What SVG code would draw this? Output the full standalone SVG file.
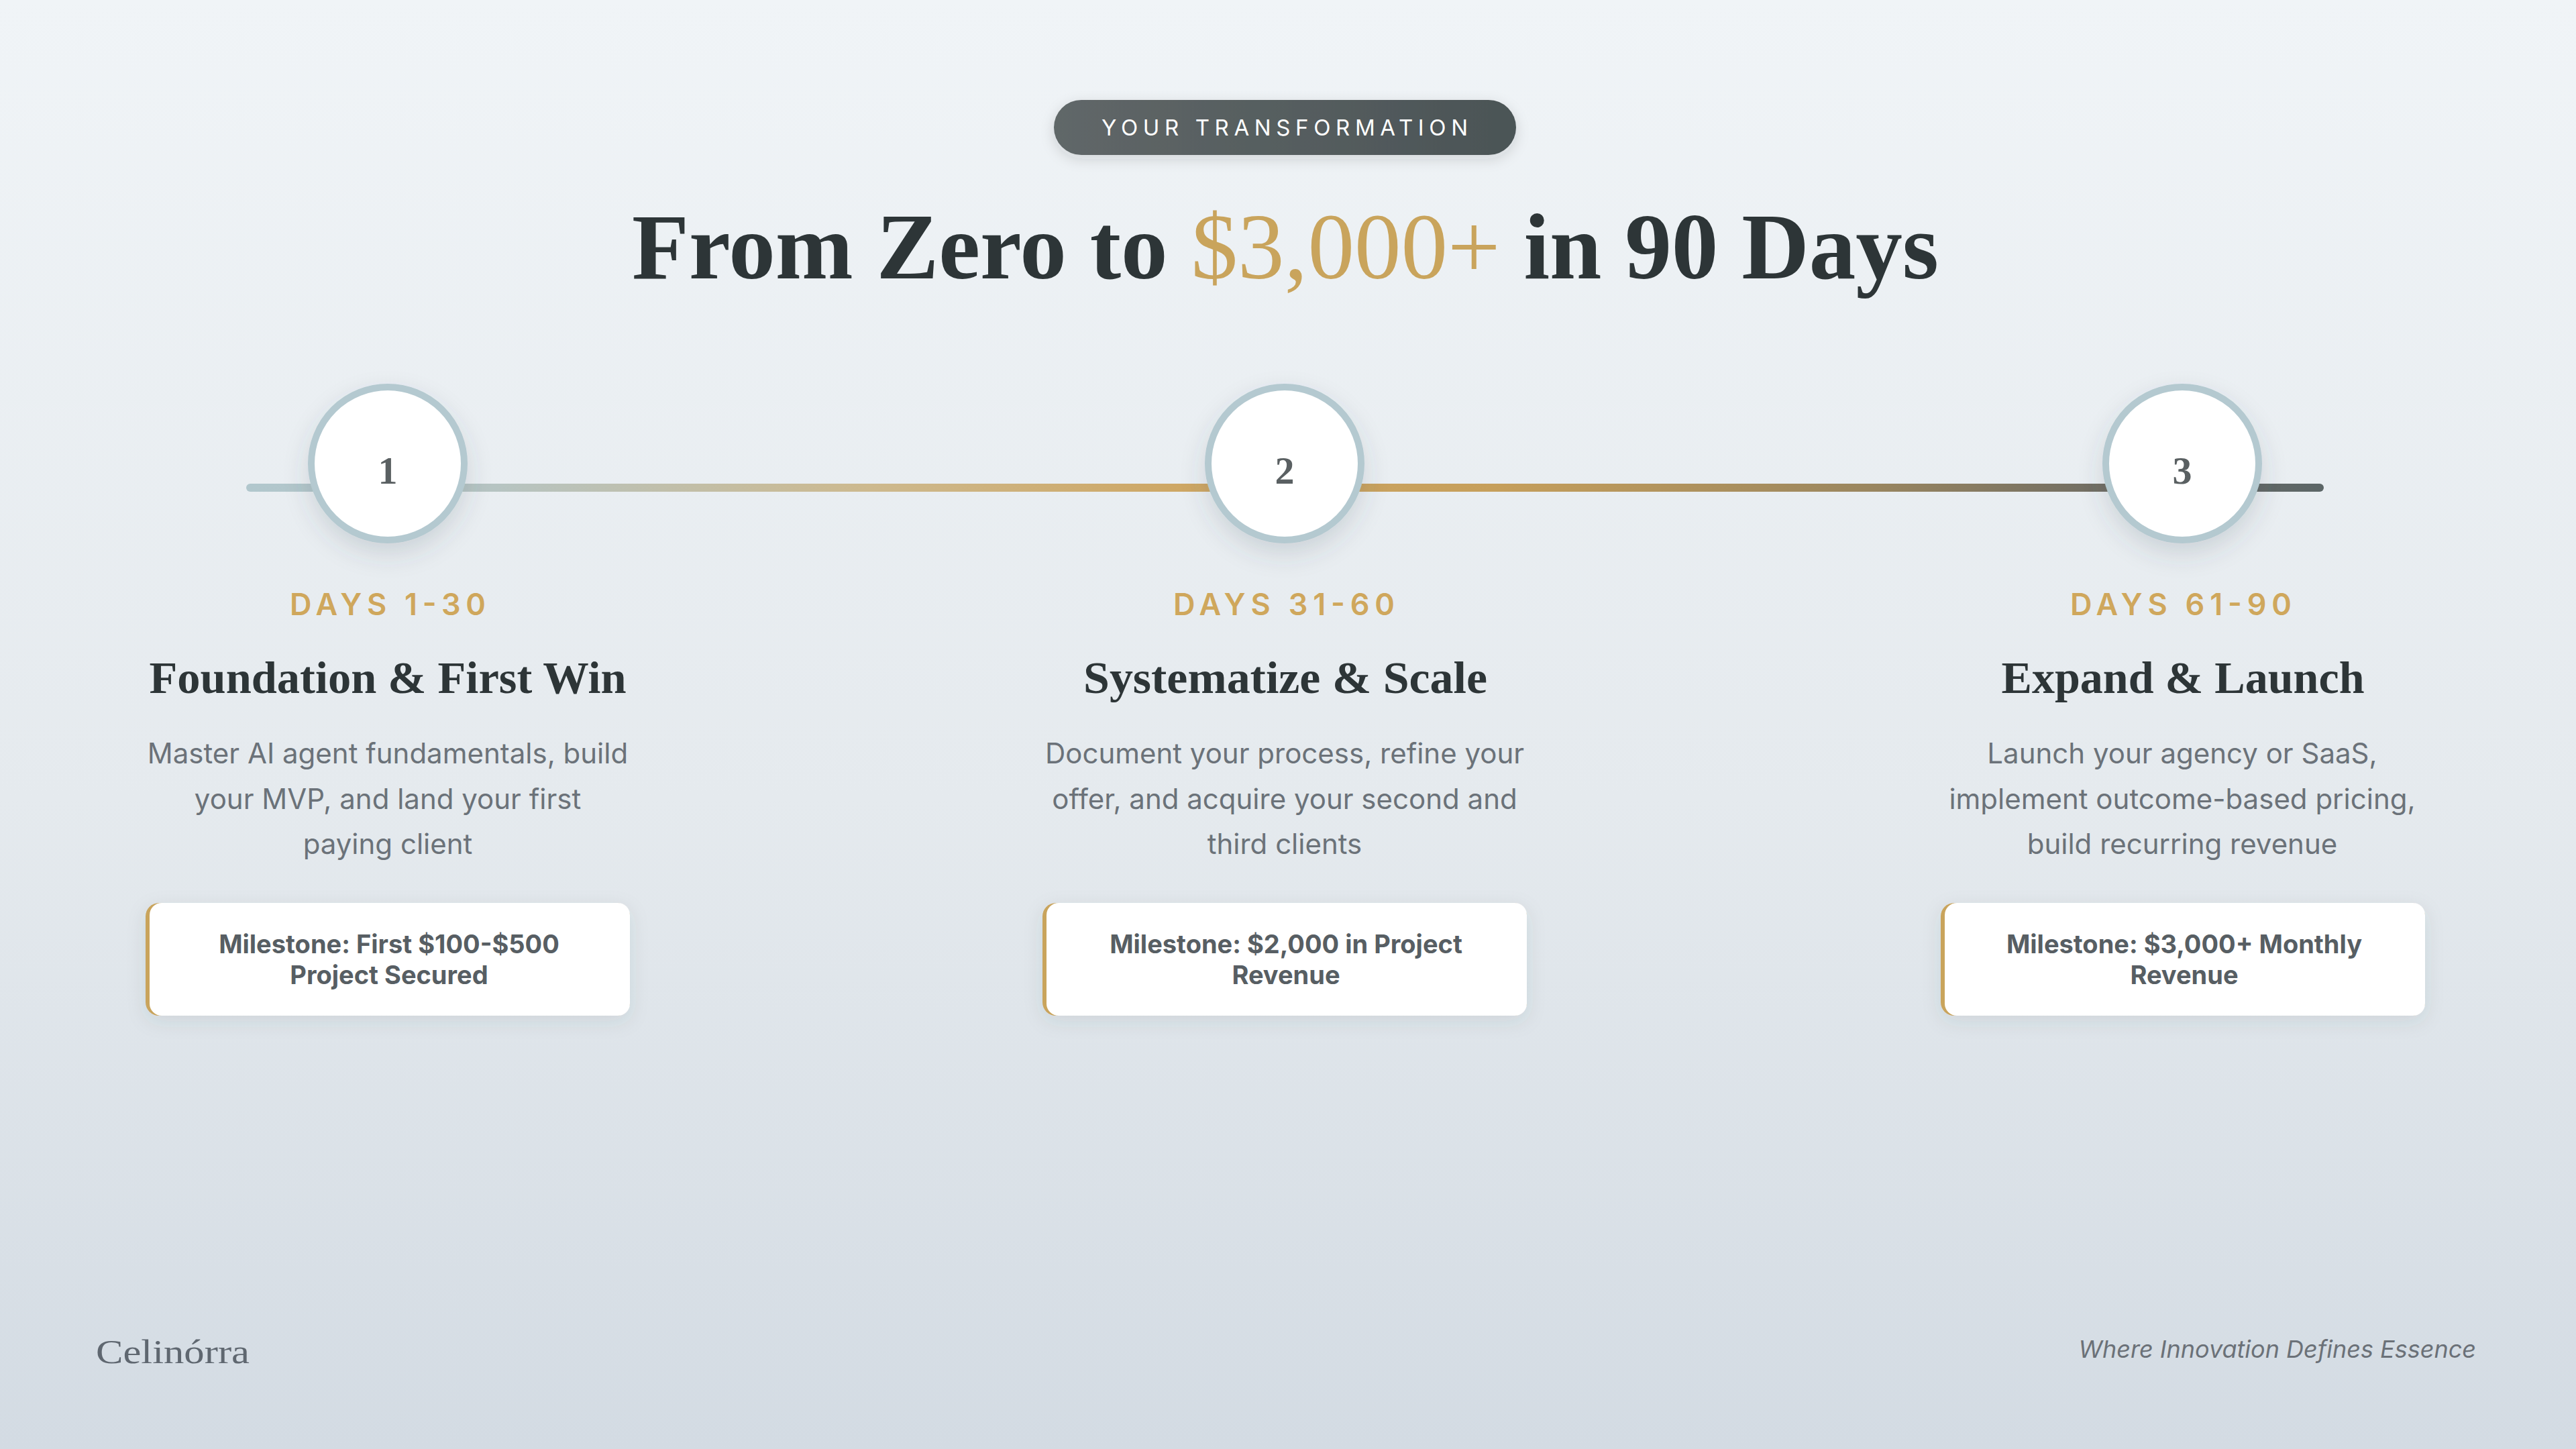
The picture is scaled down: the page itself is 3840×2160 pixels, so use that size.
<svg xmlns="http://www.w3.org/2000/svg" width="3840" height="2160" viewBox="0 0 3840 2160">
<defs>
  <linearGradient id="bg" x1="0" y1="0" x2="0" y2="1">
    <stop offset="0" stop-color="#f0f4f7"/>
    <stop offset="0.55" stop-color="#e5eaee"/>
    <stop offset="1" stop-color="#d3dbe3"/>
  </linearGradient>
  <linearGradient id="pillGrad" x1="0" y1="0" x2="1" y2="0">
    <stop offset="0" stop-color="#606768"/>
    <stop offset="1" stop-color="#4b5456"/>
  </linearGradient>
  <linearGradient id="lineGrad" gradientUnits="userSpaceOnUse" x1="367" y1="0" x2="3464" y2="0">
    <stop offset="0" stop-color="#b1c7cd"/>
    <stop offset="0.12" stop-color="#b6c4c2"/>
    <stop offset="0.3" stop-color="#cdb98e"/>
    <stop offset="0.45" stop-color="#cea764"/>
    <stop offset="0.6" stop-color="#c69f5b"/>
    <stop offset="0.78" stop-color="#9a865f"/>
    <stop offset="0.9" stop-color="#6e6c64"/>
    <stop offset="1" stop-color="#5c6667"/>
  </linearGradient>
  <filter id="circleShadow" x="-50%" y="-50%" width="200%" height="200%">
    <feDropShadow dx="0" dy="16" stdDeviation="18" flood-color="#3a4a55" flood-opacity="0.16"/>
  </filter>
  <filter id="boxShadow" x="-20%" y="-40%" width="140%" height="180%">
    <feDropShadow dx="0" dy="8" stdDeviation="14" flood-color="#3a4a55" flood-opacity="0.10"/>
  </filter>
  <filter id="pillShadow" x="-20%" y="-50%" width="140%" height="200%">
    <feDropShadow dx="0" dy="6" stdDeviation="10" flood-color="#2d3436" flood-opacity="0.15"/>
  </filter>
</defs>
<style>
  .pilltxt { font-family: Inter, "Liberation Sans", sans-serif; font-size: 33px; fill: #ffffff; text-anchor: middle; }
  .title { font-family: "Liberation Serif", "DejaVu Serif", serif; font-weight: bold; font-size: 140px; fill: #2d3537; text-anchor: middle; }
  .gold { fill: #c9a45c; font-weight: normal; }
  .num { font-family: "Liberation Serif", serif; font-weight: bold; font-size: 58px; fill: #5a6062; text-anchor: middle; }
  .days { font-family: Inter, "Liberation Sans", sans-serif; font-weight: 600; font-size: 45px; fill: #cfa75c; text-anchor: middle; }
  .head { font-family: "Liberation Serif", serif; font-weight: bold; font-size: 68px; fill: #2d3537; text-anchor: middle; }
  .desc { font-family: Inter, "Liberation Sans", sans-serif; font-size: 42px; fill: #6b7279; text-anchor: middle; }
  .mile { font-family: Inter, "Liberation Sans", sans-serif; font-weight: bold; font-size: 38px; fill: #575e63; text-anchor: middle; }
  .brand { font-family: "Liberation Serif", serif; font-size: 50px; fill: #5f6770; }
  .tag { font-family: Inter, "Liberation Sans", sans-serif; font-style: italic; font-size: 36px; fill: #6b7178; text-anchor: end; }
  .ring { fill: #ffffff; stroke: #b4c9d0; stroke-width: 10; }
  .boxGold { fill: #c9a45c; }
  .boxWhite { fill: #ffffff; }
</style>

<rect x="0" y="0" width="3840" height="2160" fill="url(#bg)"/>

<g id="header">
  <rect x="1571" y="149" width="689" height="82" rx="41" fill="url(#pillGrad)" filter="url(#pillShadow)"/>
  <text class="pilltxt" x="1915" y="202" textLength="546" lengthAdjust="spacing">YOUR TRANSFORMATION</text>
  <text class="title" x="1916" y="415" textLength="1948" lengthAdjust="spacingAndGlyphs">From Zero to <tspan class="gold">$3,000+</tspan> in 90 Days</text>
</g>

<g id="connectors">
  <line x1="373" y1="727" x2="3458" y2="727" stroke="url(#lineGrad)" stroke-width="12" stroke-linecap="round"/>
</g>

<g id="phase1">
  <circle class="ring" cx="578" cy="691" r="114" filter="url(#circleShadow)"/>
  <text class="num" x="578" y="721">1</text>
  <text class="days" x="578" y="917" textLength="292" lengthAdjust="spacing">DAYS 1-30</text>
  <text class="head" x="578" y="1033" textLength="711" lengthAdjust="spacingAndGlyphs">Foundation &amp; First Win</text>
  <text class="desc" x="578" y="1138">Master AI agent fundamentals, build</text>
  <text class="desc" x="578" y="1206">your MVP, and land your first</text>
  <text class="desc" x="578" y="1273">paying client</text>
  <g filter="url(#boxShadow)">
    <rect class="boxGold" x="217" y="1346" width="722" height="168" rx="20"/>
    <rect class="boxWhite" x="223" y="1346" width="716" height="168" rx="18"/>
  </g>
  <text class="mile" x="580" y="1421">Milestone: First $100-$500</text>
  <text class="mile" x="580" y="1467">Project Secured</text>
</g>

<g id="phase2">
  <circle class="ring" cx="1915" cy="691" r="114" filter="url(#circleShadow)"/>
  <text class="num" x="1915" y="721">2</text>
  <text class="days" x="1914" y="917" textLength="330" lengthAdjust="spacing">DAYS 31-60</text>
  <text class="head" x="1916" y="1033" textLength="602" lengthAdjust="spacingAndGlyphs">Systematize &amp; Scale</text>
  <text class="desc" x="1915" y="1138">Document your process, refine your</text>
  <text class="desc" x="1915" y="1206">offer, and acquire your second and</text>
  <text class="desc" x="1915" y="1273">third clients</text>
  <g filter="url(#boxShadow)">
    <rect class="boxGold" x="1554" y="1346" width="722" height="168" rx="20"/>
    <rect class="boxWhite" x="1560" y="1346" width="716" height="168" rx="18"/>
  </g>
  <text class="mile" x="1917" y="1421">Milestone: $2,000 in Project</text>
  <text class="mile" x="1917" y="1467">Revenue</text>
</g>

<g id="phase3">
  <circle class="ring" cx="3253" cy="691" r="114" filter="url(#circleShadow)"/>
  <text class="num" x="3253" y="721">3</text>
  <text class="days" x="3251" y="917" textLength="330" lengthAdjust="spacing">DAYS 61-90</text>
  <text class="head" x="3254" y="1033" textLength="541" lengthAdjust="spacingAndGlyphs">Expand &amp; Launch</text>
  <text class="desc" x="3253" y="1138">Launch your agency or SaaS,</text>
  <text class="desc" x="3253" y="1206">implement outcome-based pricing,</text>
  <text class="desc" x="3253" y="1273">build recurring revenue</text>
  <g filter="url(#boxShadow)">
    <rect class="boxGold" x="2893" y="1346" width="722" height="168" rx="20"/>
    <rect class="boxWhite" x="2899" y="1346" width="716" height="168" rx="18"/>
  </g>
  <text class="mile" x="3256" y="1421">Milestone: $3,000+ Monthly</text>
  <text class="mile" x="3256" y="1467">Revenue</text>
</g>

<g id="footer">
  <text class="brand" x="143" y="2032" textLength="229" lengthAdjust="spacingAndGlyphs">Celinórra</text>
  <text class="tag" x="3691" y="2024">Where Innovation Defines Essence</text>
</g>
</svg>
